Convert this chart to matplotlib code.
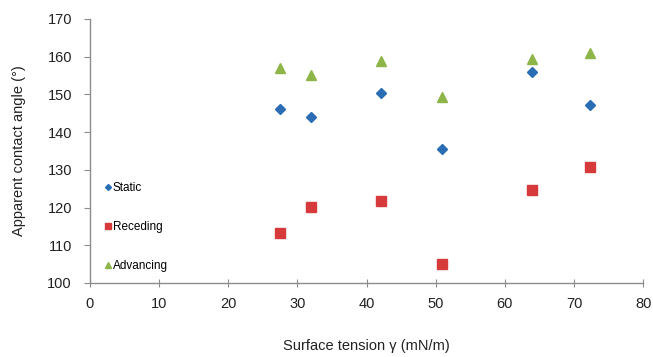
import matplotlib
matplotlib.use("Agg")
import matplotlib.pyplot as plt

plt.rcParams['font.family'] = ['Liberation Sans', 'DejaVu Sans']

surface_tension = [27.5, 32.0, 42.1, 50.9, 63.9, 72.3]
static = [146.2, 143.9, 150.3, 135.5, 155.9, 147.3]
receding = [113.2, 120.2, 121.8, 105.1, 124.6, 130.8]
advancing = [157.1, 155.1, 158.9, 149.4, 159.5, 161.0]

x_ticks = [0, 10, 20, 30, 40, 50, 60, 70, 80]
y_ticks = [100, 110, 120, 130, 140, 150, 160, 170]

fig = plt.figure(figsize=(6.53, 3.57), dpi=100)
ax = fig.add_axes([0.1378, 0.2073, 0.847, 0.7395])

ax.plot(surface_tension, static, linestyle='none', marker='D', ms=5.5,
        color='#2A6DB5', label='Static')
ax.plot(surface_tension, receding, linestyle='none', marker='s', ms=7,
        color='#D63A3A', label='Receding')
ax.plot(surface_tension, advancing, linestyle='none', marker='^', ms=7.5,
        color='#8DB548', label='Advancing')

ax.set_xlim(0, 80)
ax.set_ylim(100, 170)
ax.set_xticks(x_ticks)
ax.set_yticks(y_ticks)

for s in ['top', 'right']:
    ax.spines[s].set_visible(False)
for s in ['left', 'bottom']:
    ax.spines[s].set_color('#8C8C8C')
    ax.spines[s].set_linewidth(1.0)

ax.tick_params(axis='y', direction='out', length=4, color='#8C8C8C',
               labelsize=10.5, labelcolor='#222222', pad=9)
ax.tick_params(axis='x', direction='inout', length=6, color='#8C8C8C',
               labelsize=10.5, labelcolor='#222222', pad=7)

ax.set_xlabel('Surface tension γ (mN/m)', fontsize=10.5, color='#222222', labelpad=20)
ax.set_ylabel('Apparent contact angle (°)', fontsize=10.5, color='#222222', labelpad=15)

leg = ax.legend(loc='upper left', bbox_to_anchor=(0.02, 0.40), frameon=False,
                fontsize=8.5, markerscale=0.55, handlelength=0.4,
                handletextpad=0.2, labelspacing=2.3, borderaxespad=0)

fig.savefig('out.png', dpi=100)
